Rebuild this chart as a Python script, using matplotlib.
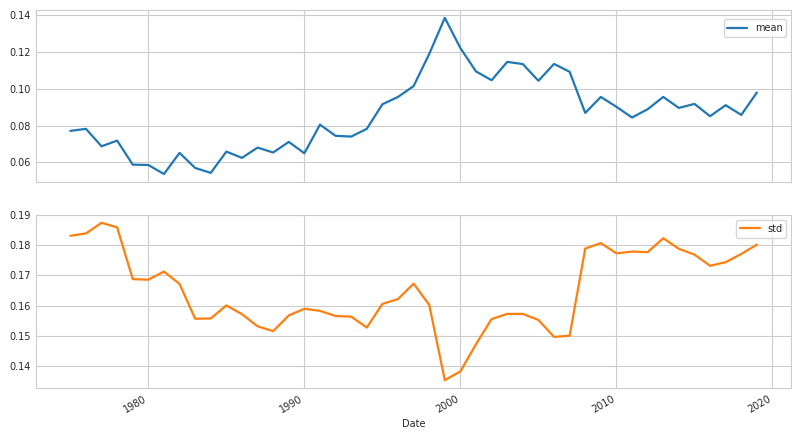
import matplotlib
matplotlib.use("Agg")
import matplotlib.pyplot as plt
import seaborn as sns

years = list(range(1975, 2020))
mean_vals = [0.0771, 0.0782, 0.0687, 0.0718, 0.0587, 0.0585, 0.0536, 0.0651, 0.0569, 0.0542,
             0.0658, 0.0624, 0.0680, 0.0653, 0.0711, 0.0649, 0.0805, 0.0744, 0.0740, 0.0782,
             0.0916, 0.0956, 0.1015, 0.1190, 0.1387, 0.1222, 0.1095, 0.1047, 0.1147, 0.1135,
             0.1044, 0.1136, 0.1093, 0.0869, 0.0956, 0.0902, 0.0844, 0.0889, 0.0956, 0.0896,
             0.0918, 0.0851, 0.0911, 0.0858, 0.0980]
std_vals = [0.1831, 0.1839, 0.1874, 0.1859, 0.1688, 0.1686, 0.1713, 0.1672, 0.1557, 0.1558,
            0.1601, 0.1572, 0.1532, 0.1516, 0.1568, 0.1590, 0.1583, 0.1566, 0.1564, 0.1528,
            0.1606, 0.1622, 0.1673, 0.1603, 0.1354, 0.1383, 0.1473, 0.1556, 0.1573, 0.1573,
            0.1553, 0.1497, 0.1501, 0.1789, 0.1807, 0.1773, 0.1779, 0.1777, 0.1823, 0.1788,
            0.1769, 0.1732, 0.1744, 0.1771, 0.1802]
xticks = [1980, 1990, 2000, 2010, 2020]

sns.set_style("whitegrid")
plt.rcParams['font.family'] = ['DejaVu Sans']
fs = 7

fig = plt.figure(figsize=(8, 4.36), dpi=100)
ax1 = fig.add_axes([0.045, 0.583, 0.944, 0.394])
ax2 = fig.add_axes([0.045, 0.110, 0.944, 0.397], sharex=ax1)

ax1.plot(years, mean_vals, color='#1f77b4', lw=1.6, label='mean')
ax2.plot(years, std_vals, color='#ff7f0e', lw=1.6, label='std')

for ax in (ax1, ax2):
    ax.tick_params(labelsize=fs, colors='.15', length=0, pad=4)
    for s in ax.spines.values():
        s.set_color('.8')

ax1.legend(loc='upper right', fontsize=fs, bbox_to_anchor=(1.0, 0.975))
ax2.legend(loc='upper right', fontsize=fs)

ax1.set_yticks([0.06, 0.08, 0.10, 0.12, 0.14])
ax1.set_yticklabels(['0.06', '0.08', '0.10', '0.12', '0.14'])
ax2.set_yticks([0.14, 0.15, 0.16, 0.17, 0.18, 0.19])
ax2.set_yticklabels(['0.14', '0.15', '0.16', '0.17', '0.18', '0.19'])
ax2.set_xticks(xticks)
ax2.set_xticklabels([str(t) for t in xticks], rotation=30, ha='right')
plt.setp(ax1.get_xticklabels(), visible=False)
ax2.set_xlabel('Date', fontsize=fs, color='.15', labelpad=3)

fig.savefig('out.png', dpi=100)
